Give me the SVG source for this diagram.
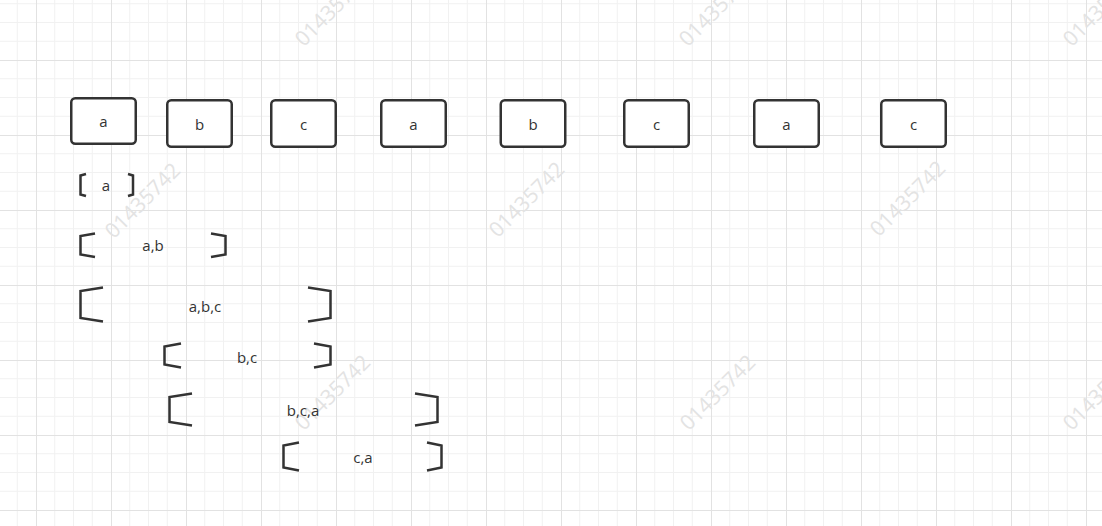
<svg xmlns="http://www.w3.org/2000/svg" width="1102" height="526" viewBox="0 0 1102 526">
<style>
.box{fill:#ffffff;stroke:#333333;stroke-width:2.5}
.br{fill:none;stroke:#333333;stroke-width:2.5;stroke-linejoin:miter}
.t{font-family:"Open Sans","Noto Sans","Liberation Sans",sans-serif;font-size:15px;fill:#333333;text-anchor:middle;dominant-baseline:central}
.wm{font-family:"Open Sans","Noto Sans","Liberation Sans",sans-serif;font-size:21px;fill:#e3e3e3;text-anchor:middle;dominant-baseline:central}
</style>
<defs>
<pattern id="grid" patternUnits="userSpaceOnUse" x="36" y="60" width="75" height="75">
<path d="M18.75 0V75M37.5 0V75M56.25 0V75M0 18.75H75M0 37.5H75M0 56.25H75" stroke="#f1f1f1" stroke-width="1" fill="none"/>
<path d="M0.5 0V75M0 0.5H75" stroke="#e2e2e2" stroke-width="1" fill="none"/>
</pattern>
</defs>
<rect width="1102" height="526" fill="#ffffff"/>
<rect width="1102" height="526" fill="url(#grid)"/>
<g id="watermarks">
<text class="wm" transform="rotate(-45 332 8)" x="332" y="8">01435742</text>
<text class="wm" transform="rotate(-45 716 8)" x="716" y="8">01435742</text>
<text class="wm" transform="rotate(-45 1100 8)" x="1100" y="8">01435742</text>
<text class="wm" transform="rotate(-45 142 200)" x="142" y="200">01435742</text>
<text class="wm" transform="rotate(-45 526 199)" x="526" y="199">01435742</text>
<text class="wm" transform="rotate(-45 907 198)" x="907" y="198">01435742</text>
<text class="wm" transform="rotate(-45 332 392)" x="332" y="392">01435742</text>
<text class="wm" transform="rotate(-45 717 392)" x="717" y="392">01435742</text>
<text class="wm" transform="rotate(-45 1100 392)" x="1100" y="392">01435742</text>
</g>
<g id="node-a1"><rect class="box" x="71.25" y="98.25" width="64.5" height="45.5" rx="4"/><text class="t" x="103.5" y="121">a</text></g>
<g id="node-b1"><rect class="box" x="167.25" y="100.25" width="64.5" height="46.5" rx="4"/><text class="t" x="199.5" y="124">b</text></g>
<g id="node-c1"><rect class="box" x="271.25" y="100.25" width="64.5" height="46.5" rx="4"/><text class="t" x="303.5" y="124">c</text></g>
<g id="node-a2"><rect class="box" x="381.25" y="100.25" width="64.5" height="46.5" rx="4"/><text class="t" x="413.5" y="124">a</text></g>
<g id="node-b2"><rect class="box" x="500.75" y="100.25" width="64.5" height="46.5" rx="4"/><text class="t" x="533" y="124">b</text></g>
<g id="node-c2"><rect class="box" x="624.25" y="100.25" width="64.5" height="46.5" rx="4"/><text class="t" x="656.5" y="124">c</text></g>
<g id="node-a3"><rect class="box" x="754.25" y="100.25" width="64.5" height="46.5" rx="4"/><text class="t" x="786.5" y="124">a</text></g>
<g id="node-c3"><rect class="box" x="881.25" y="100.25" width="64.5" height="46.5" rx="4"/><text class="t" x="913.5" y="124">c</text></g>
<g id="win-a">
<path class="br" d="M86 174L80.5 175.5V194.5L86 196"/>
<path class="br" d="M128 174L133 175.5V194.5L128 196"/>
<text class="t" x="106" y="185">a</text>
</g>
<g id="win-ab">
<path class="br" d="M95 233.5L80.5 236V254.5L95 257"/>
<path class="br" d="M211 233.5L225.5 236V254.5L211 257"/>
<text class="t" x="153" y="245">a,b</text>
</g>
<g id="win-abc">
<path class="br" d="M103 287.5L80.5 291V318L103 321.5"/>
<path class="br" d="M308 287.5L330.5 291V318L308 321.5"/>
<text class="t" x="205" y="306">a,b,c</text>
</g>
<g id="win-bc">
<path class="br" d="M181 343.5L164.5 346.5V364.5L181 367.5"/>
<path class="br" d="M314 343.5L330.5 346.5V364.5L314 367.5"/>
<text class="t" x="247" y="357">b,c</text>
</g>
<g id="win-bca">
<path class="br" d="M192 393.5L169.5 397V422L192 425.5"/>
<path class="br" d="M415 393.5L437.5 397V422L415 425.5"/>
<text class="t" x="303" y="410">b,c,a</text>
</g>
<g id="win-ca">
<path class="br" d="M299 442.5L283.5 445.5V467.5L299 470.5"/>
<path class="br" d="M427 442.5L441.5 445.5V467.5L427 470.5"/>
<text class="t" x="363" y="457">c,a</text>
</g>
<g id="connectors"></g>
</svg>
